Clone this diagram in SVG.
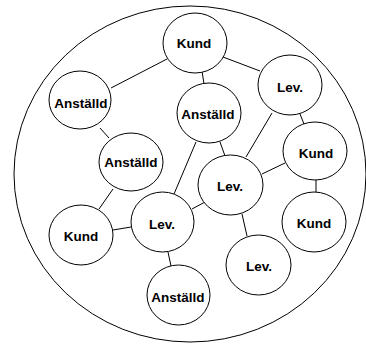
<svg xmlns="http://www.w3.org/2000/svg" width="366" height="345" viewBox="0 0 366 345">
  <style>
    .frame { fill: none; stroke: #000; stroke-width: 1; }
    .node ellipse { fill: #fff; stroke: #000; stroke-width: 1; }
    .node text { font-family: "Liberation Sans", Arial, sans-serif; font-weight: bold; font-size: 13.5px; text-anchor: middle; fill: #000; }
    .links line { stroke: #000; stroke-width: 1; }
  </style>
  <rect width="366" height="345" fill="#fff"/>
  <!-- enclosing boundary -->
  <ellipse class="frame" cx="190" cy="174" rx="176" ry="168"/>

  <!-- connectors -->
  <g id="links" class="links">
    <line x1="111" y1="88" x2="167" y2="59"/>
    <line x1="202" y1="71" x2="204" y2="84"/>
    <line x1="223" y1="57" x2="260" y2="71"/>
    <line x1="100" y1="128" x2="109" y2="138"/>
    <line x1="272" y1="113" x2="246" y2="157"/>
    <line x1="300" y1="114" x2="304" y2="124"/>
    <line x1="196" y1="142" x2="174" y2="194"/>
    <line x1="220" y1="142" x2="225" y2="156"/>
    <line x1="285" y1="163" x2="262" y2="174"/>
    <line x1="192" y1="209" x2="205" y2="202"/>
    <line x1="242" y1="214" x2="247" y2="236"/>
    <line x1="113" y1="189" x2="99" y2="209"/>
    <line x1="113" y1="230" x2="131" y2="227"/>
    <line x1="168" y1="252" x2="171" y2="266"/>
    <line x1="316" y1="180" x2="316" y2="192"/>
  </g>

  <!-- nodes -->
  <g id="kund-top" class="node"><ellipse cx="195" cy="43" rx="32" ry="30"/><text x="194" y="48">Kund</text></g>
  <g id="anstalld-left" class="node"><ellipse cx="80" cy="100" rx="31" ry="29"/><text x="81" y="108">Anställd</text></g>
  <g id="anstalld-mid" class="node"><ellipse cx="131" cy="162" rx="32" ry="29"/><text x="131" y="167">Anställd</text></g>
  <g id="anstalld-center" class="node"><ellipse cx="209" cy="113" rx="32" ry="30"/><text x="208" y="119">Anställd</text></g>
  <g id="lev-top" class="node"><ellipse cx="290" cy="85" rx="32" ry="30"/><text x="290" y="92">Lev.</text></g>
  <g id="kund-right" class="node"><ellipse cx="315" cy="151" rx="32" ry="29"/><text x="316" y="158">Kund</text></g>
  <g id="lev-center" class="node"><ellipse cx="230.5" cy="185" rx="32.5" ry="30"/><text x="230" y="191">Lev.</text></g>
  <g id="kund-lower-right" class="node"><ellipse cx="314" cy="222" rx="32" ry="30"/><text x="314" y="228">Kund</text></g>
  <g id="lev-bottom" class="node"><ellipse cx="258.5" cy="265" rx="32.5" ry="30"/><text x="259" y="271">Lev.</text></g>
  <g id="kund-left" class="node"><ellipse cx="81" cy="235" rx="32" ry="30"/><text x="81" y="241">Kund</text></g>
  <g id="lev-left" class="node"><ellipse cx="162.5" cy="222" rx="31.5" ry="30"/><text x="162" y="229">Lev.</text></g>
  <g id="anstalld-bottom" class="node"><ellipse cx="178.5" cy="295" rx="31.5" ry="30"/><text x="178" y="302">Anställd</text></g>
</svg>
